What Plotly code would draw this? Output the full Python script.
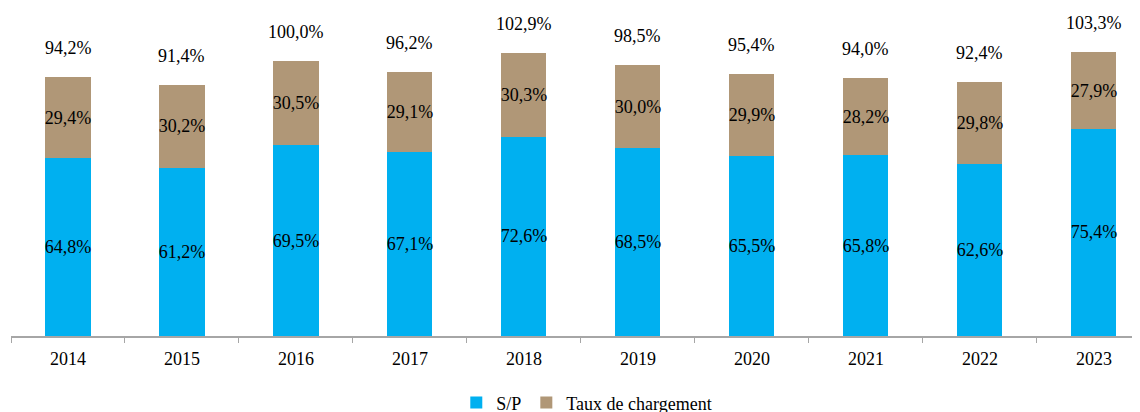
import plotly.graph_objects as go

years = ["2014", "2015", "2016", "2017", "2018", "2019", "2020", "2021", "2022", "2023"]
sp = [64.8, 61.2, 69.5, 67.1, 72.6, 68.5, 65.5, 65.8, 62.6, 75.4]
chargement = [29.4, 30.2, 30.5, 29.1, 30.3, 30.0, 29.9, 28.2, 29.8, 27.9]
totals = [94.2, 91.4, 100.0, 96.2, 102.9, 98.5, 95.4, 94.0, 92.4, 103.3]

def fr(v):
    return f"{v:.1f}".replace(".", ",") + "%"

FONT = "Liberation Serif"
BLUE = "#00B0F0"
TAN = "#B09777"
BAR_W = 0.395

fig = go.Figure()
fig.add_trace(go.Bar(
    x=years, y=sp, name="S/P", marker=dict(color=BLUE, line=dict(width=0)),
    text=[fr(v) for v in sp], textposition="inside", insidetextanchor="middle",
    constraintext="none", textangle=0,
    textfont=dict(family=FONT, size=18, color="black"), width=BAR_W,
))
fig.add_trace(go.Bar(
    x=years, y=chargement, name="Taux de chargement",
    marker=dict(color=TAN, line=dict(width=0)),
    text=[fr(v) for v in chargement], textposition="inside", insidetextanchor="middle",
    constraintext="none", textangle=0,
    textfont=dict(family=FONT, size=18, color="black"), width=BAR_W,
))

# category axis: annotations use the category's serial index
for i, t in enumerate(totals):
    fig.add_annotation(x=i, y=t, xref="x", yref="y", text=fr(t), showarrow=False,
                       yanchor="middle", yshift=29,
                       font=dict(family=FONT, size=18, color="black"))

fig.update_layout(
    template="none",
    barmode="stack",
    width=1140, height=412,
    margin=dict(l=3, r=8, t=0, b=84, pad=0, autoexpand=False),
    paper_bgcolor="white", plot_bgcolor="white",
    font=dict(family=FONT, size=18, color="black"),
    showlegend=True,
    legend=dict(orientation="h", x=0.51, xanchor="center", y=-0.204, yanchor="middle",
                font=dict(family=FONT, size=18, color="black"), traceorder="normal",
                itemwidth=30, bgcolor="rgba(0,0,0,0)"),
)
fig.update_xaxes(
    type="category", categoryorder="array", categoryarray=years,
    range=[-0.5, 9.404], automargin=False,
    showline=True, linecolor="#A6A6A6", linewidth=1.5,
    ticks="outside", tickson="boundaries", ticklen=5, tickcolor="#A6A6A6", tickwidth=1,
    tickfont=dict(family=FONT, size=18, color="black"), showgrid=False, zeroline=False,
    ticklabelstandoff=6,
)
fig.update_yaxes(visible=False, range=[0, 119.4], showgrid=False, automargin=False)

fig.write_html("out.html")
